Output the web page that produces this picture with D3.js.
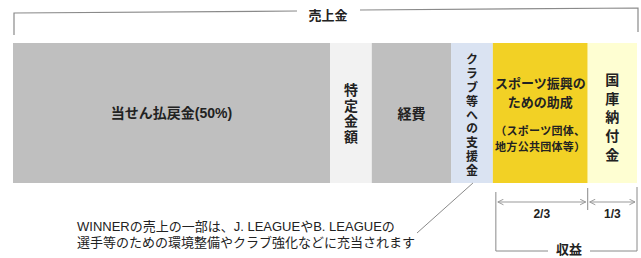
<!DOCTYPE html>
<html>
<head>
<meta charset="utf-8">
<script src="https://cdn.jsdelivr.net/npm/d3@7"></script>
<style>
  body { margin: 0; background: #fff; }
  svg { display: block; }
  text { fill: #222; font-family: "Liberation Sans", "Noto Sans CJK JP", sans-serif; }
</style>
</head>
<body>
<div id="chart"></div>
<script>
// data -----------------------------------------------------------------------
const segments = ["当せん払戻金(50%)", "特定金額", "経費", "クラブ等への支援金", "スポーツ振興のための助成", "国庫納付金"];
const shares = [50.8, 6.7, 12.7, 6.7, 15.2, 7.9];   // share of sales (width of each block)
const colors = ["#bfbfbf", "#f2f2f2", "#bfbfbf", "#dae3f2", "#f2d125", "#fefed2"];
const totalLabel = "売上金";
const revenueLabel = "収益";
const revenueParts = ["2/3", "1/3"];
const note = ["WINNERの売上の一部は、J. LEAGUEやB. LEAGUEの", "選手等のための環境整備やクラブ強化などに充当されます"];

// layout ---------------------------------------------------------------------
const width = 641, height = 258;
const barTop = 43, barBottom = 183;
const midY = (barTop + barBottom) / 2;

const svg = d3.select('#chart').append('svg')
    .attr('width', width)
    .attr('height', height);

const ends = d3.cumsum(shares);
const starts = [0, ...ends.slice(0, -1)];
const x = d3.scaleLinear()
    .domain([0, d3.sum(shares)])
    .range([13, 637]);

const blocks = segments.map((name, i) => ({
    name, color: colors[i],
    x0: x(starts[i]), x1: x(ends[i]),
    cx: (x(starts[i]) + x(ends[i])) / 2
}));

// bars
svg.append('g')
    .selectAll('rect')
    .data(blocks)
    .join('rect')
    .attr('x', d => d.x0)
    .attr('y', barTop)
    .attr('width', d => d.x1 - d.x0)
    .attr('height', barBottom - barTop)
    .attr('fill', d => d.color);

const lineColor = '#8a8a8a';

// top bracket (売上金) - the scan is a little tilted
const bracket = svg.append('g').attr('stroke', lineColor).attr('fill', 'none').attr('stroke-width', 1.2);
bracket.append('path').attr('d', `M${x(0) + 1},35 L${x(0) + 1},13 L297,11`);
bracket.append('path').attr('d', `M360,10 L${x.range()[1] + 1},8 L${x.range()[1] + 1},32`);
svg.append('text')
    .attr('x', 328).attr('y', 15)
    .attr('text-anchor', 'middle').attr('dy', '0.35em')
    .attr('font-size', 13).attr('font-weight', 'bold')
    .text(totalLabel);

// labels inside the blocks ----------------------------------------------------
function horizontal(b, size, dy) {
    svg.append('text')
        .attr('x', b.cx).attr('y', midY + dy)
        .attr('text-anchor', 'middle').attr('dy', '0.35em')
        .attr('font-size', size).attr('font-weight', 'bold')
        .text(b.name);
}

// vertical writing (tategaki)
function vertical(b, size, step, dy) {
    const gap = step - size;
    svg.append('text')
        .attr('x', b.cx)
        .attr('y', midY + dy + gap / 2)
        .attr('text-anchor', 'middle')
        .attr('font-size', size).attr('font-weight', 'bold')
        .style('font-family', '"Noto Sans CJK JP", sans-serif')
        .style('writing-mode', 'vertical-rl')
        .style('text-orientation', 'upright')
        .style('letter-spacing', `${gap}px`)
        .text(b.name);
}

horizontal(blocks[0], 14, 0);
vertical(blocks[1], 14, 15.6, 0);
horizontal(blocks[2], 14, 1);
vertical(blocks[3], 12, 13.8, 2);
vertical(blocks[5], 14, 18.7, 4);

// スポーツ振興のための助成 block
const sub = [
    { t: "スポーツ振興の", y: 83, s: 13 },
    { t: "ための助成", y: 102, s: 13 },
    { t: "（スポーツ団体、", y: 131, s: 11 },
    { t: "地方公共団体等）", y: 147, s: 11 }
];
svg.append('text')
    .attr('text-anchor', 'middle')
    .attr('font-weight', 'bold')
    .style('font-family', '"Noto Sans CJK JP", sans-serif')
    .selectAll('tspan')
    .data(sub)
    .join('tspan')
    .attr('x', blocks[4].cx)
    .attr('y', d => d.y + d.s * 0.35)
    .attr('font-size', d => d.s)
    .style('letter-spacing', d => d.s === 11 ? '0.3px' : '0px')
    .text(d => d.t);

// note with leader line ------------------------------------------------------
svg.append('line')
    .attr('x1', blocks[3].cx + 1).attr('y1', 183)
    .attr('x2', 417).attr('y2', 233)
    .attr('stroke', lineColor).attr('stroke-width', 1);

svg.append('text')
    .attr('font-size', 13)
    .selectAll('tspan')
    .data(note)
    .join('tspan')
    .attr('x', 77)
    .attr('y', (d, i) => 226 + i * 16 + 13 * 0.35)
    .text(d => d);

// revenue bracket (収益) -------------------------------------------------------
const rx0 = blocks[4].x0 + 3, rxm = blocks[5].x0, rx1 = blocks[5].x1;
const rev = svg.append('g').attr('stroke', lineColor).attr('fill', 'none').attr('stroke-width', 1);
rev.append('path').attr('d', `M${rx0},192 L${rx0},251 L548,251`);
rev.append('path').attr('d', `M590,251 L${rx1},251 L${rx1},187`);
rev.append('line').attr('x1', rxm).attr('y1', 188).attr('x2', rxm).attr('y2', 210);

const arrowSpans = [[rx0, rxm], [rxm, rx1]];
svg.append('defs').append('marker')
    .attr('id', 'arr')
    .attr('viewBox', '0 0 10 10')
    .attr('refX', 9).attr('refY', 5)
    .attr('markerWidth', 7).attr('markerHeight', 7)
    .attr('orient', 'auto-start-reverse')
    .append('path')
    .attr('d', 'M1,1 L9,5 L1,9')
    .attr('fill', 'none').attr('stroke', '#999').attr('stroke-width', 1.4);

svg.append('g')
    .selectAll('line')
    .data(arrowSpans)
    .join('line')
    .attr('x1', d => d[0] + 2).attr('x2', d => d[1] - 2)
    .attr('y1', 202).attr('y2', 202)
    .attr('stroke', '#999').attr('stroke-width', 1)
    .attr('marker-start', 'url(#arr)')
    .attr('marker-end', 'url(#arr)');

svg.append('g')
    .selectAll('text')
    .data(revenueParts)
    .join('text')
    .attr('x', (d, i) => (arrowSpans[i][0] + arrowSpans[i][1]) / 2)
    .attr('y', 214)
    .attr('text-anchor', 'middle').attr('dy', '0.35em')
    .attr('font-size', 12).attr('font-weight', 'bold')
    .attr('fill', '#333')
    .text(d => d);

svg.append('text')
    .attr('x', 569).attr('y', 249)
    .attr('text-anchor', 'middle').attr('dy', '0.35em')
    .attr('font-size', 13).attr('font-weight', 'bold')
    .text(revenueLabel);
</script>
</body>
</html>
